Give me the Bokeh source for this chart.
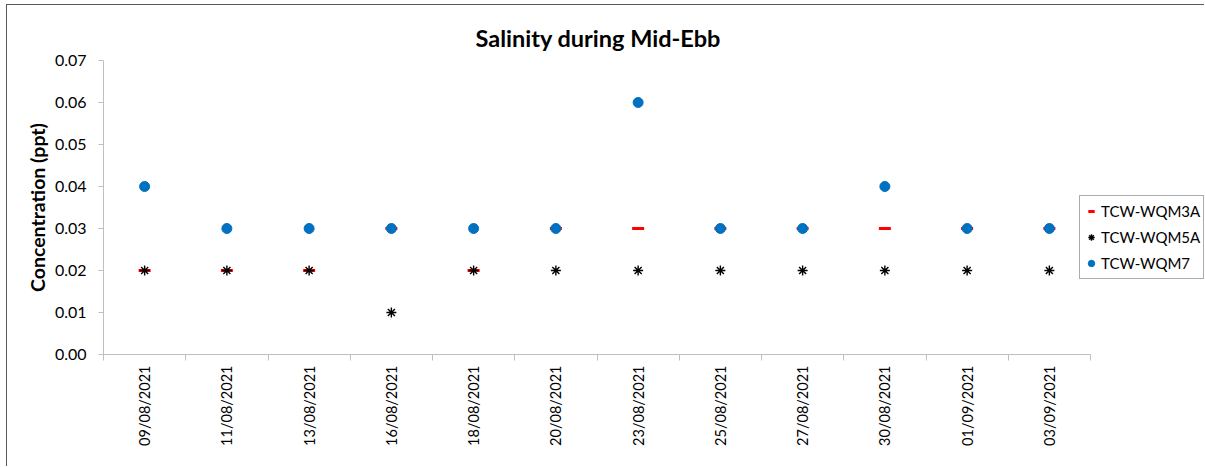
from bokeh.plotting import figure
from bokeh.models import Range1d, FixedTicker, ColumnDataSource, Legend, LegendItem, Title
from bokeh.embed import file_html
from bokeh.resources import INLINE
import math

dates = ["09/08/2021", "11/08/2021", "13/08/2021", "16/08/2021", "18/08/2021", "20/08/2021",
         "23/08/2021", "25/08/2021", "27/08/2021", "30/08/2021", "01/09/2021", "03/09/2021"]
wqm3a = [0.02, 0.02, 0.02, 0.03, 0.02, 0.03, 0.03, 0.03, 0.03, 0.03, 0.03, 0.03]
wqm5a = [0.02, 0.02, 0.02, 0.01, 0.02, 0.02, 0.02, 0.02, 0.02, 0.02, 0.02, 0.02]
wqm7 = [0.04, 0.03, 0.03, 0.03, 0.03, 0.03, 0.06, 0.03, 0.03, 0.04, 0.03, 0.03]
y_ticks = [0.0, 0.01, 0.02, 0.03, 0.04, 0.05, 0.06, 0.07]

FONT = "Lato"
n = len(dates)
xpos = [i + 0.5 for i in range(n)]
src = ColumnDataSource(dict(x=xpos, d=dates, a=wqm3a, b=wqm5a, c=wqm7))

# plotting frame reaches the right edge so the legend can sit beside the axis;
# the axis itself is bounded to the 12 categories
FRAME_W = 1102
AXIS_W = 987
p = figure(width=1198, height=462, output_backend="svg", toolbar_location=None,
           x_range=Range1d(0, n * FRAME_W / AXIS_W), y_range=Range1d(0, 0.07),
           min_border_left=96, min_border_right=0, min_border_top=55, min_border_bottom=113)
p.styles = {"margin-left": "6px", "margin-top": "4px",
            "border-left": "1px solid #595959", "border-top": "1px solid #595959"}
p.outline_line_color = None
p.xgrid.grid_line_color = None
p.ygrid.grid_line_color = None

t = Title(text="Salinity during Mid-Ebb", align="left", offset=372, text_font=FONT,
          text_font_size="23.5px", text_font_style="bold", text_color="#000000",
          standoff=13, vertical_align="top")
p.add_layout(t, "above")

r1 = p.scatter("x", "a", source=src, marker="dash", size=12, line_color="#ff0000",
               line_width=3, fill_color="#ff0000")
r2 = p.scatter("x", "b", source=src, marker="asterisk", size=10, line_color="#000000",
               line_width=1.4)
r3 = p.scatter("x", "c", source=src, marker="circle", size=10, line_color="#0070c0",
               fill_color="#0070c0")

# x axis: labels at category centres, ticks at category boundaries
xa = p.xaxis[0]
xa.bounds = (0, n)
xa.ticker = FixedTicker(ticks=xpos, minor_ticks=list(range(n + 1)))
xa.major_label_overrides = {x: d for x, d in zip(xpos, dates)}
xa.major_label_orientation = math.pi / 2
xa.major_tick_line_color = None
xa.minor_tick_line_color = "#bfbfbf"
xa.minor_tick_out = 6
xa.minor_tick_in = 0
xa.axis_line_color = "#bfbfbf"
xa.major_label_text_font = FONT
xa.major_label_text_font_size = "14.5px"
xa.major_label_text_color = "#000000"
xa.major_label_standoff = 5

ya = p.yaxis[0]
ya.ticker = FixedTicker(ticks=y_ticks)
ya.major_label_overrides = {v: f"{v:.2f}" for v in y_ticks}
ya.minor_tick_line_color = None
ya.major_tick_line_color = "#bfbfbf"
ya.major_tick_out = 5
ya.major_tick_in = 0
ya.axis_line_color = "#bfbfbf"
ya.major_label_text_font = FONT
ya.major_label_text_font_size = "16px"
ya.major_label_text_color = "#000000"
ya.major_label_standoff = 12
ya.axis_label = "Concentration (ppt)"
ya.axis_label_text_font = FONT
ya.axis_label_text_font_size = "19.5px"
ya.axis_label_text_font_style = "bold"
ya.axis_label_text_color = "#000000"
ya.axis_label_standoff = 3

legend = Legend(items=[LegendItem(label="TCW-WQM3A", renderers=[r1]),
                       LegendItem(label="TCW-WQM5A", renderers=[r2]),
                       LegendItem(label="TCW-WQM7", renderers=[r3])],
                location=(976, 75))
legend.label_text_font = FONT
legend.label_text_font_size = "15px"
legend.label_text_color = "#000000"
legend.border_line_color = "#595959"
legend.border_line_width = 1
legend.background_fill_color = "white"
legend.background_fill_alpha = 1
legend.padding = 3
legend.spacing = 2
legend.margin = 0
legend.glyph_width = 16
legend.glyph_height = 24
legend.label_height = 24
legend.label_standoff = 2
p.add_layout(legend, "center")

open("out.html", "w").write(file_html(p, INLINE))
